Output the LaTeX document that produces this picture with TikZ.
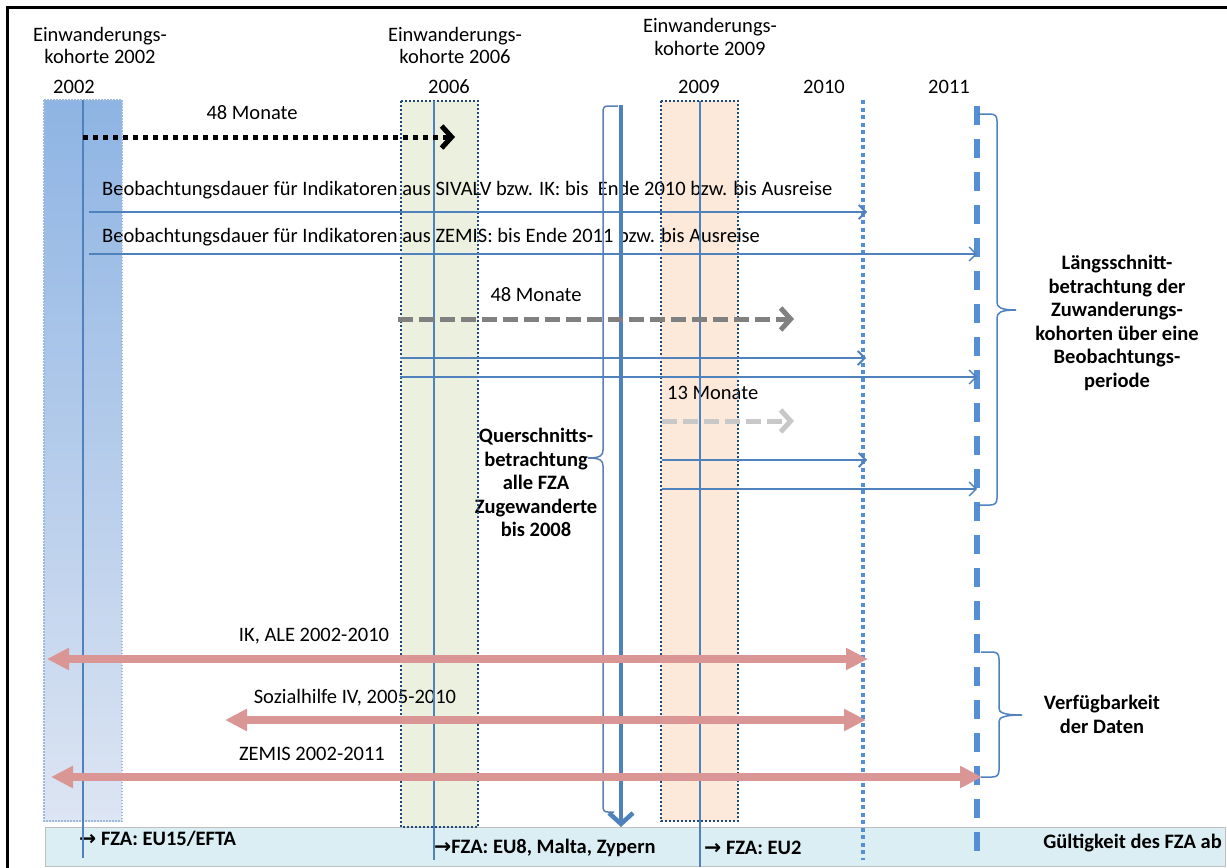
\documentclass[tikz,border=0pt]{standalone}
\usepackage{fontspec}
\setmainfont{Carlito}
\newfontfamily\symfont{DejaVu Sans}
\usetikzlibrary{arrows.meta}
\definecolor{lineblue}{HTML}{4F81BD}
\definecolor{dotblue}{HTML}{558ED5}
\definecolor{navy}{HTML}{1F497D}
\definecolor{colA}{HTML}{8EB4E3}
\definecolor{colAb}{HTML}{DDE5F3}
\definecolor{colAborder}{HTML}{9DB9DE}
\definecolor{colB}{HTML}{EBF1DE}
\definecolor{colC}{HTML}{FDE9D9}
\definecolor{pinkarrow}{HTML}{DA9694}
\definecolor{stripfill}{HTML}{DBEEF3}
\definecolor{stripborder}{HTML}{BFBFBF}
\definecolor{brackblue}{HTML}{5B7FB5}
\definecolor{greyA}{HTML}{808080}
\definecolor{greyB}{HTML}{C8C8C8}
\begin{document}
\begin{tikzpicture}[x=1pt,y=-1pt,
  every node/.style={inner sep=0pt, font=\fontsize{20.5}{23.5}\selectfont},
  lbl/.style={anchor=base},
  lblw/.style={anchor=base west},
  boldtxt/.style={font=\fontsize{20.5}{23.5}\selectfont\bfseries},
  cline/.style={draw=lineblue, line width=1.3pt},
  obsthick/.style={draw=lineblue, line width=1.8pt, -{Straight Barb[length=7pt,width=14pt]}},
  obsthin/.style={draw=lineblue, line width=1.3pt, -{Straight Barb[length=7pt,width=14pt]}},
  monthsarrow/.style={line width=5pt, -{Straight Barb[length=10pt,width=22pt]}},
  availarrow/.style={draw=pinkarrow, line width=8pt, {Triangle[length=22pt,width=21pt]}-{Triangle[length=22pt,width=21pt]}},
  bracebox/.style={draw=lineblue, line width=1.5pt},
  coldots/.style={draw=navy, line width=2pt, dash pattern=on 2pt off 2pt}
]
\useasboundingbox (0,0) rectangle (1227,868);

% frame
\draw[black, line width=3pt] (7,868) -- (7,7) -- (1227,7);

% bottom strip
\draw[draw=stripborder, fill=stripfill, line width=1pt] (45,827) rectangle (1225.5,866);

% column fills
\fill[top color=colA, bottom color=colAb] (44,100) rectangle (122,821);
\fill[colB] (401,101) rectangle (478,827);
\fill[colC] (661,101) rectangle (738,821);

% headers
\node[lbl] (h02a) at (100,41.5) {Einwanderungs-};
\node[lbl] (h02b) at (100,63.5) {kohorte 2002};
\node[lbl] (h06a) at (455,41.5) {Einwanderungs-};
\node[lbl] (h06b) at (455,63.5) {kohorte 2006};
\node[lbl] (h09a) at (710,32.5) {Einwanderungs-};
\node[lbl] (h09b) at (710,55.5) {kohorte 2009};
\node[lbl] (y02) at (74,93.5) {2002};
\node[lbl] (y06) at (449,93.5) {2006};
\node[lbl] (y09) at (699,93.5) {2009};
\node[lbl] (y10) at (824,93.5) {2010};
\node[lbl] (y11) at (949,93.5) {2011};

% texts
\node[lbl] (m48a) at (252,119.5) {48 Monate};
\node[lblw] (tsiv) at (102,195.5) {Beobachtungsdauer für Indikatoren aus SIVALV bzw. IK: bis\ \ Ende 2010 bzw. bis Ausreise};
\node[lblw] (tzem) at (102,242.5) {Beobachtungsdauer für Indikatoren aus ZEMIS: bis Ende 2011 bzw. bis Ausreise};
\node[lbl] (m48b) at (536,301.5) {48 Monate};
\node[lblw] (m13) at (667,399.5) {13 Monate};
\node[lbl, boldtxt] (q1) at (536,442.5) {Querschnitts-};
\node[lbl, boldtxt] (q2) at (536,466) {betrachtung};
\node[lbl, boldtxt] (q3) at (536,489.5) {alle FZA};
\node[lbl, boldtxt] (q4) at (536,513) {Zugewanderte};
\node[lbl, boldtxt] (q5) at (536,536.5) {bis 2008};
\node[lbl, boldtxt] (l1) at (1117,269.5) {Längsschnitt-};
\node[lbl, boldtxt] (l2) at (1117,293) {betrachtung der};
\node[lbl, boldtxt] (l3) at (1117,316.5) {Zuwanderungs-};
\node[lbl, boldtxt] (l4) at (1117,340) {kohorten über eine};
\node[lbl, boldtxt] (l5) at (1117,363.5) {Beobachtungs-};
\node[lbl, boldtxt] (l6) at (1117,387) {periode};
\node[lbl, boldtxt] (v1) at (1102,709.5) {Verfügbarkeit};
\node[lbl, boldtxt] (v2) at (1102,733) {der Daten};
\node[lbl] (tik) at (314,641.5) {IK, ALE 2002-2010};
\node[lbl] (tsoz) at (355,703.5) {Sozialhilfe IV, 2005-2010};
\node[lbl] (tzm) at (312,760.5) {ZEMIS 2002-2011};
\node[lblw, boldtxt] (f1) at (79,845.5) {{\symfont\bfseries →} FZA: EU15/EFTA};
\node[lblw, boldtxt] (f2) at (434,853.5) {{\symfont\bfseries →}FZA: EU8, Malta, Zypern};
\node[lblw, boldtxt] (f3) at (704,854.5) {{\symfont\bfseries →} FZA: EU2};
\node[anchor=base east, boldtxt] (fg) at (1222,848.5) {Gültigkeit des FZA ab};

% column borders
\draw[colAborder, line width=1.5pt, dash pattern=on 1.5pt off 1.5pt] (44,100) rectangle (122,821);
\draw[coldots] (401,101) rectangle (478,827);
\draw[coldots] (661,101) rectangle (738,821);

% centre lines
\draw[cline] (83,100) -- (83,858);
\draw[cline] (434,101) -- (434,860);
\draw[cline] (700,101) -- (700,867);

% year lines
\draw[dotblue, line width=4.5pt, dash pattern=on 4pt off 3.5pt] (863,100) -- (863,860);
\draw[dotblue, line width=5.5pt, dash pattern=on 19pt off 14pt] (977,106) -- (977,855);

% cross-section
\draw[lineblue, line width=4.5pt, -{Straight Barb[length=11pt,width=24pt]}] (621,105) -- (621,827);
\draw[brackblue, line width=1.5pt] (618,106) -- (608,106) .. controls (604,106) and (603,108) .. (603,112)
  -- (603,450) .. controls (603,455) and (601,458) .. (588,458)
  .. controls (601,458) and (603,461) .. (603,466)
  -- (603,806) .. controls (603,810) and (604,812) .. (608,812) -- (614,812);

% month arrows
\coordinate (ma1) at (83,137); \coordinate (ma2) at (455,137);
\draw[monthsarrow, black, dash pattern=on 5pt off 5pt] (ma1) -- (ma2);
\coordinate (mb1) at (398,319); \coordinate (mb2) at (794,319);
\draw[monthsarrow, greyA, dash pattern=on 15pt off 6pt] (mb1) -- (mb2);
\coordinate (mc1) at (662,421); \coordinate (mc2) at (794,421);
\draw[monthsarrow, greyB, dash pattern=on 15pt off 6pt] (mc1) -- (mc2);

% observation arrows
\coordinate (o1a) at (89,212); \coordinate (o1b) at (867,212);
\coordinate (o2a) at (89,254); \coordinate (o2b) at (977,254);
\coordinate (o3a) at (400,358); \coordinate (o3b) at (866,358);
\coordinate (o4a) at (400,377); \coordinate (o4b) at (977,377);
\coordinate (o5a) at (662,460); \coordinate (o5b) at (867,460);
\coordinate (o6a) at (662,489); \coordinate (o6b) at (977,489);
\draw[obsthick] (o1a) -- (o1b);
\draw[obsthin] (o2a) -- (o2b);
\draw[obsthick] (o3a) -- (o3b);
\draw[obsthin] (o4a) -- (o4b);
\draw[obsthick] (o5a) -- (o5b);
\draw[obsthin] (o6a) -- (o6b);

% availability arrows
\coordinate (p1a) at (47,659); \coordinate (p1b) at (868,659);
\coordinate (p2a) at (225,720); \coordinate (p2b) at (866,720);
\coordinate (p3a) at (51,777); \coordinate (p3b) at (982,777);
\draw[availarrow] (p1a) -- (p1b);
\draw[availarrow] (p2a) -- (p2b);
\draw[availarrow] (p3a) -- (p3b);

% braces
\draw[bracebox] (978,114) -- (990,114) .. controls (995,114) and (997,116) .. (997,121)
  -- (997,302) .. controls (997,307) and (1000,310) .. (1016,310)
  .. controls (1000,310) and (997,313) .. (997,318)
  -- (997,498) .. controls (997,503) and (995,505) .. (990,505) -- (978,505);
\draw[bracebox] (981,652) -- (992,652) .. controls (997,652) and (999,654) .. (999,659)
  -- (999,708) .. controls (999,712) and (1002,715) .. (1022,715)
  .. controls (1002,715) and (999,718) .. (999,722)
  -- (999,770) .. controls (999,775) and (997,777) .. (992,777) -- (981,777);
\end{tikzpicture}
\end{document}
